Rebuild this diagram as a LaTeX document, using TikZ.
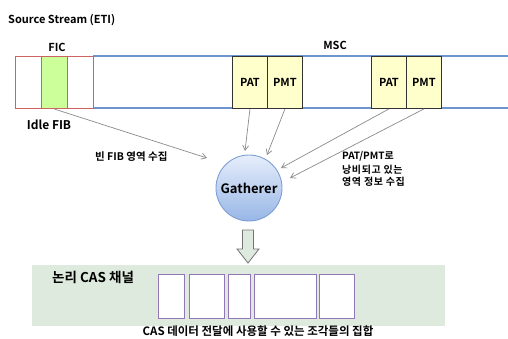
\documentclass[tikz,border=0pt]{standalone}
\usepackage{fontspec}
\setmainfont{Noto Sans CJK KR}[BoldFont={* Bold}]
\usetikzlibrary{arrows.meta}
\definecolor{redline}{HTML}{CC6464}
\definecolor{fibgreen}{HTML}{CCFF99}
\definecolor{blueline}{HTML}{6F95CF}
\definecolor{patfill}{HTML}{FFFFCC}
\definecolor{circtop}{HTML}{E6EEFB}
\definecolor{circbot}{HTML}{98B6E6}
\definecolor{circline}{HTML}{7E9FD6}
\definecolor{band}{HTML}{DFEADF}
\definecolor{purp}{HTML}{9177B8}
\definecolor{arrgrey}{HTML}{8A8A8A}
\tikzset{
  lbl/.style={font=\bfseries\fontsize{11}{13}\selectfont, inner sep=0pt},
  fibbox/.style={draw=redline, line width=1.1pt, minimum width=26pt, minimum height=52pt, inner sep=0pt},
  pbox/.style={draw=black!80, fill=patfill, line width=0.9pt, minimum width=35pt, minimum height=52pt, inner sep=0pt, font=\bfseries\fontsize{11}{12}\selectfont},
  cbox/.style={draw=purp, fill=white, line width=1.1pt, minimum height=44pt, inner sep=0pt},
  feed/.style={draw=arrgrey, line width=0.7pt, -{Straight Barb[length=5pt,width=6pt]}},
  small/.style={font=\bfseries\fontsize{10.5}{12}\selectfont, inner sep=0pt, align=left}
}
\begin{document}
\begin{tikzpicture}[x=1pt,y=-1pt]
\useasboundingbox (0,0) rectangle (508,338);
% title
\node[lbl, anchor=west] (title) at (8,20) {Source Stream (ETI)};
\node[lbl] (fic) at (57,47) {FIC};
\node[lbl] (msc) at (335,45) {MSC};
% stream lines
\draw[blueline, line width=1.2pt] (93,56) -- (508,56);
\draw[blueline, line width=1.2pt] (93,108) -- (508,108);
% FIC boxes
\node[fibbox, anchor=north west] (f1) at (15,56) {};
\node[fibbox, fill=fibgreen, anchor=north west] (f2) at (41,56) {};
\node[fibbox, anchor=north west] (f3) at (67,56) {};
% PAT/PMT
\node[pbox, anchor=north west] (pat1) at (232,56) {PAT};
\node[pbox, anchor=north west] (pmt1) at (267,56) {PMT};
\node[pbox, anchor=north west] (pat2) at (371,56) {PAT};
\node[pbox, anchor=north west] (pmt2) at (406,56) {PMT};
\node[lbl, font=\bfseries\fontsize{12}{13}\selectfont] (idle) at (49,125) {Idle FIB};
% gatherer
\node[circle, draw=circline, line width=0.9pt, top color=circtop, bottom color=circbot, minimum size=66pt, inner sep=0pt, font=\bfseries\fontsize{13}{14}\selectfont] (gath) at (249,188) {Gatherer};
% arrow ends
\coordinate (e1) at (207,158);
\coordinate (e2) at (245,151);
\coordinate (e3) at (267,155);
\coordinate (e4) at (281,168);
\coordinate (e5) at (290,178);
\draw[feed] (f2.south) -- (e1);
\draw[feed] (pat1.south) -- (e2);
\draw[feed] (pmt1.south) -- (e3);
\draw[feed] (pat2.south) -- (e4);
\draw[feed] (pmt2.south) -- (e5);
% labels
\node[small, anchor=west] (l1) at (95,157) {빈 FIB 영역 수집};
\node[small, anchor=north west, align=left, font=\bfseries\fontsize{10}{12}\selectfont] (l2) at (342,151) {PAT/PMT로\\[2pt]{\addfontfeatures{LetterSpace=6}낭비되고 있는}\\{\addfontfeatures{LetterSpace=6}영역 정보 수집}};
% hollow arrow
\draw[draw=black!55, fill=band, line width=0.8pt] (242.5,230) -- (253.5,230) -- (253.5,249) -- (259,249) -- (248,263) -- (237,249) -- (242.5,249) -- cycle;
% band
\node[fill=band, minimum width=413pt, minimum height=61pt, inner sep=0pt, anchor=north west] (bandn) at (32,265) {};
\node[lbl, font=\bfseries\fontsize{13.5}{15}\selectfont, anchor=west] (cas) at (52,277) {논리 CAS 채널};
\node[cbox, minimum width=26pt, anchor=north west] (c1) at (158,274) {};
\node[cbox, minimum width=35pt, anchor=north west] (c2) at (189,274) {};
\node[cbox, minimum width=22pt, anchor=north west] (c3) at (228,274) {};
\node[cbox, minimum width=62pt, anchor=north west] (c4) at (254,274) {};
\node[cbox, minimum width=35pt, anchor=north west] (c5) at (319,274) {};
\node[small, font=\bfseries\fontsize{11.5}{12}\selectfont] (cap) at (258,331) {CAS 데이터 전달에 사용할 수 있는 조각들의 집합};
\end{tikzpicture}
\end{document}
